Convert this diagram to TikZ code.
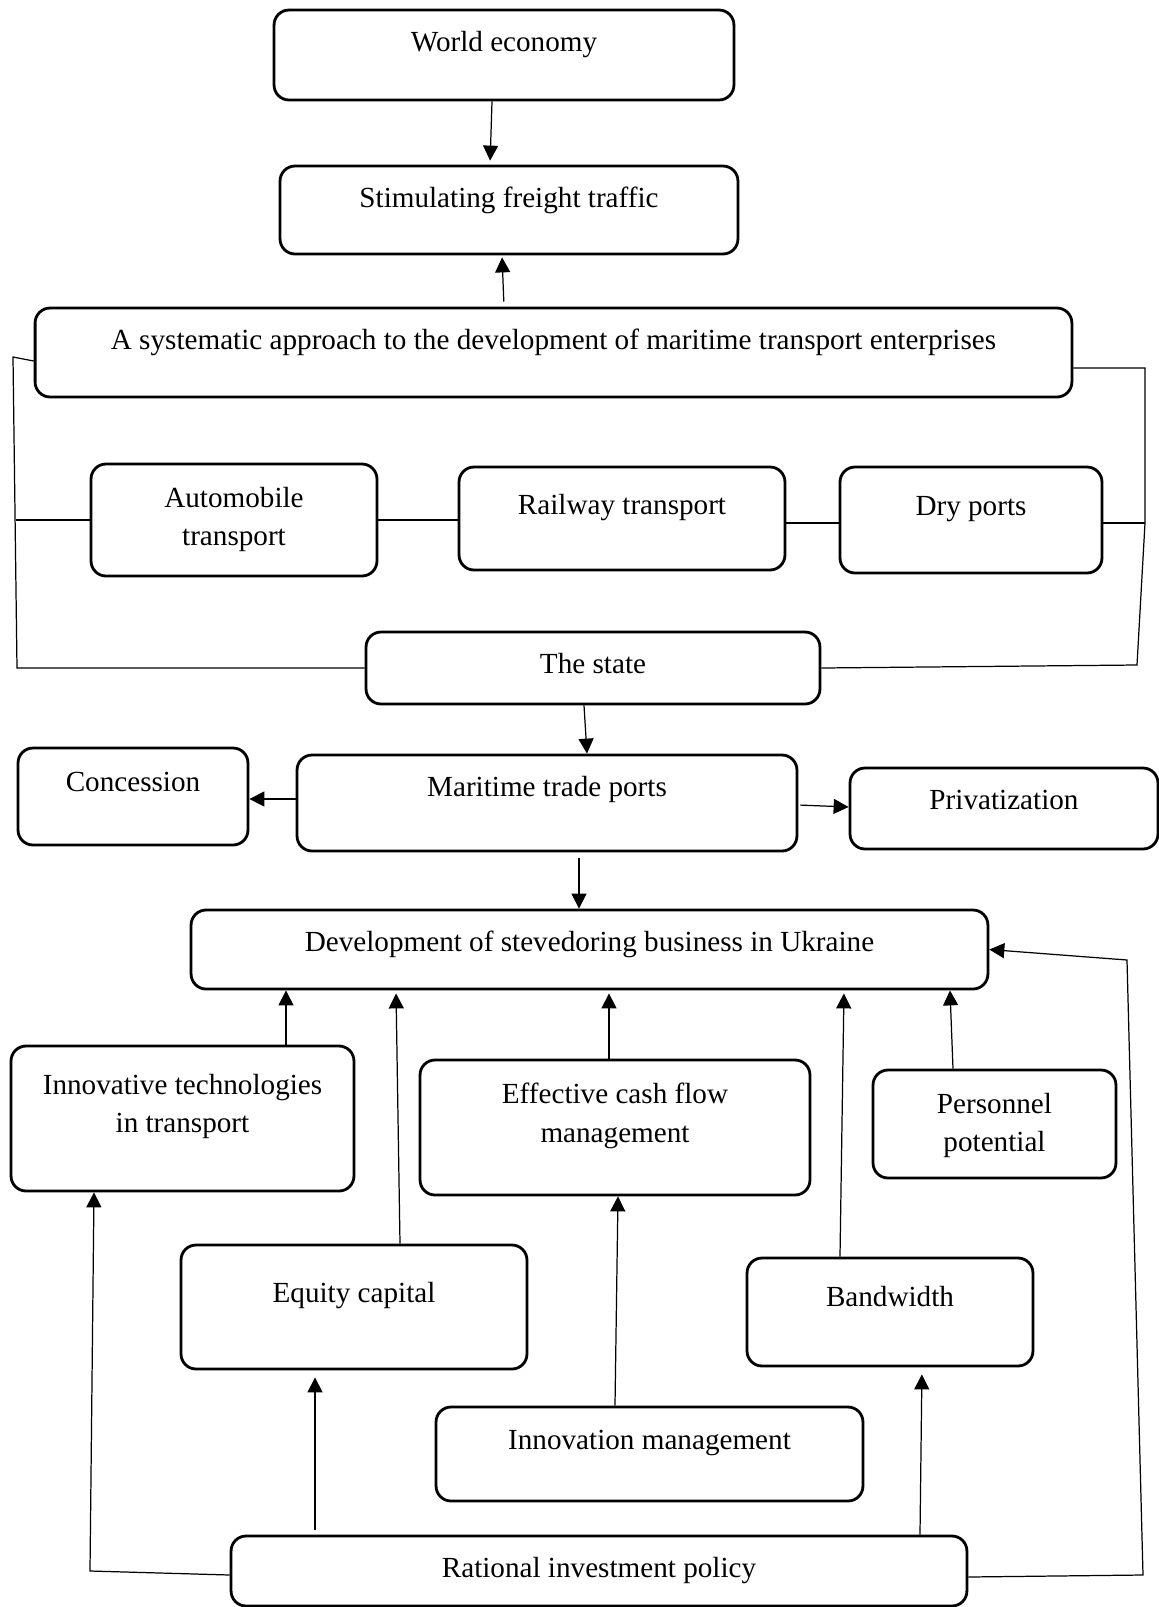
\documentclass[tikz,border=0pt]{standalone}
\usepackage{fontspec}
\setmainfont{Liberation Serif}
\usetikzlibrary{arrows.meta}
\tikzset{
	blk/.style={draw, rounded corners=0.3cm, line width=1.6pt, inner sep=0pt, align=center, text height=0.41cm, font=\fontsize{16.6}{22}\selectfont},
	lift/.style={text depth=#1},
	twoline/.style={text height=#1, text depth=0cm},
	link/.style={line width=0.7pt},
	arr/.style={link, -{Triangle[length=0.3cm,width=0.3cm]}}
}

\begin{document}
\begin{tikzpicture}[x=0.02cm, y=-0.02cm]
		\useasboundingbox[fill=white] (0,0) rectangle (1159,1607);
		%%%%% BOXES %%%%%
		\node[blk, lift=0.538cm, minimum width=9.2cm, minimum height=1.8cm] (we) at (504,55) {World economy};
		\node[blk, lift=0.498cm, minimum width=9.16cm, minimum height=1.76cm] (st) at (509,210) {Stimulating freight traffic};
		\node[blk, lift=0.518cm, minimum width=20.74cm, minimum height=1.78cm] (sys) at (553.5,352.5) {A systematic approach to the development of maritime transport enterprises};
		
		\node[blk, twoline=1.028cm, minimum width=5.72cm, minimum height=2.24cm] (auto) at (234,520) {Automobile\\transport};
		\node[blk, lift=0.558cm, minimum width=6.52cm, minimum height=2.06cm] (rail) at (622,518.5) {Railway transport};
		\node[blk, lift=0.578cm, minimum width=5.24cm, minimum height=2.12cm] (dry) at (971,520) {Dry ports};
		\node[blk, lift=0.178cm, minimum width=9.08cm, minimum height=1.44cm] (state) at (593,668) {The state};
		
		\node[blk, lift=0.658cm, minimum width=10cm, minimum height=1.92cm] (mtp) at (547,803) {Maritime trade ports};
		\node[blk, lift=0.598cm, minimum width=4.6cm, minimum height=1.94cm] (conc) at (133,796.5) {Concession};
		\node[blk, lift=0.378cm, minimum width=6.16cm, minimum height=1.62cm] (priv) at (1004,808.5) {Privatization};
		\node[blk, lift=0.318cm, minimum width=15.94cm, minimum height=1.58cm] (dev) at (589.5,949.5) {Development of stevedoring business in Ukraine};
		
		\node[blk, twoline=0.568cm, minimum width=6.86cm, minimum height=2.9cm] (itech) at (182.5,1118.5) {Innovative technologies\\in transport};
		\node[blk, twoline=0.588cm, minimum width=7.8cm, minimum height=2.7cm] (cash) at (615,1127.5) {Effective cash flow\\management};
		\node[blk, twoline=1.108cm, minimum width=4.86cm, minimum height=2.16cm] (pers) at (994.5,1124) {Personnel\\potential};
		\node[blk, lift=0.578cm, minimum width=6.92cm, minimum height=2.48cm] (eq) at (354,1307) {Equity capital};
		\node[blk, lift=0.618cm, minimum width=5.72cm, minimum height=2.16cm] (band) at (890,1312) {Bandwidth};
		\node[blk, lift=0.578cm, minimum width=8.54cm, minimum height=1.88cm] (imgmt) at (649.5,1454) {Innovation management};
		\node[blk, lift=0.138cm, minimum width=14.72cm, minimum height=1.4cm] (rip) at (599,1571) {Rational investment policy};
		
		%%%%% TOP LINKS %%%%%
		\draw[arr, shorten >=0.08cm] (we.south -| 492,0) -- (st.north -| 490,0);
		\draw[arr, shorten <=0.1cm, shorten >=0.04cm] (sys.north -| 504,0) -- (st.south -| 502,0);
		
		\coordinate (lt) at (13,357);
		\coordinate (lb) at (17,668);
		\draw[link] (sys.west |- 0,361) -- (lt) -- (lb) -- (state.west);
		\draw[link] (auto.west -| 16,0) -- (auto.west);
		\draw[link] (auto.east) -- (auto.east -| rail.west);
		\draw[link] (rail.east |- 0,523) -- (dry.west |- 0,523);
		
		\coordinate (rt) at (1145,368);
		\coordinate (rm) at (1145,523);
		\coordinate (rb) at (1137,665);
		\draw[link] (sys.east |- rt) -- (rt) -- (rm) -- (rb) -- (state.east);
		\draw[link] (dry.east |- rm) -- (rm);
		
		%%%%% PORTS %%%%%
		\draw[arr] (state.south -| 584,0) -- (mtp.north -| 587,0);
		\draw[arr] (mtp.west |- 0,799) -- (conc.east |- 0,799);
		\draw[arr, shorten <=0.04cm] (mtp.east |- 0,805) -- (priv.west |- 0,807);
		\draw[arr, shorten <=0.12cm] (mtp.south -| 579,0) -- (dev.north -| 579,0);
		
		%%%%% FACTORS %%%%%
		\draw[arr] (itech.north -| 286,0) -- (dev.south -| 286,0);
		\draw[arr, shorten >=0.06cm] (eq.north -| 400,0) -- (dev.south -| 396,0);
		\draw[arr, shorten >=0.06cm] (cash.north -| 609,0) -- (dev.south -| 609,0);
		\draw[arr, shorten >=0.06cm] (band.north -| 840,0) -- (dev.south -| 844,0);
		\draw[arr] (pers.north -| 953,0) -- (dev.south -| 950,0);
		\draw[arr] (imgmt.north -| 615,0) -- (cash.south -| 618,0);
		
		%%%%% INVESTMENT %%%%%
		\coordinate (bl) at (90,1571);
		\coordinate (br) at (1143,1575);
		\coordinate (tr) at (1127,960);
		\draw[arr, shorten <=0.1cm, shorten >=0.14cm] (rip.north -| 315,0) -- (eq.south -| 315,0);
		\draw[arr, shorten >=0.14cm] (rip.north -| 920,0) -- (band.south -| 922,0);
		\draw[arr] (rip.west |- 0,1575) -- (bl) -- (itech.south -| 94,0);
		\draw[arr] (rip.east |- 0,1577) -- (br) -- (tr) -- (dev.east);
\end{tikzpicture}
\end{document}
